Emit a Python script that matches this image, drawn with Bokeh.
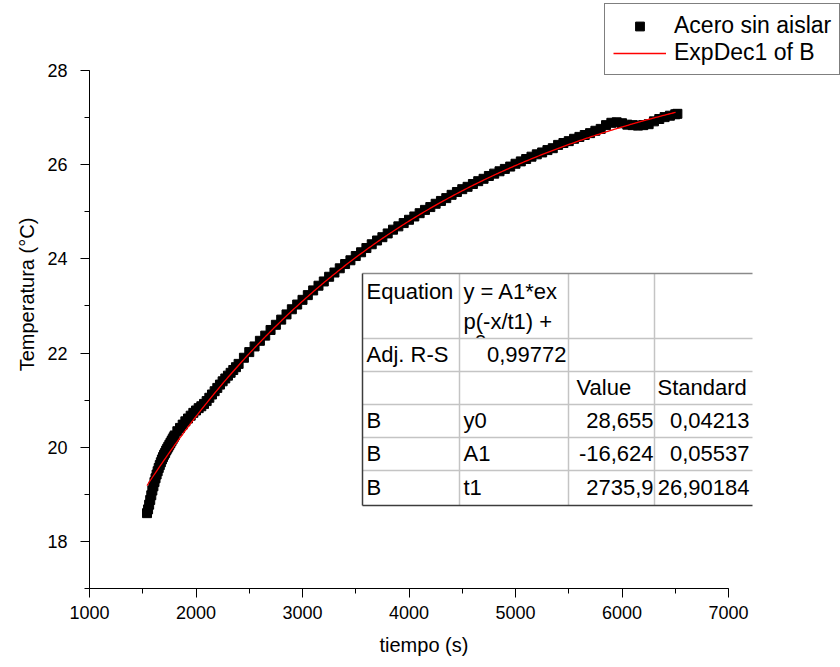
import numpy as np
from bokeh.plotting import figure
from bokeh.models import Range1d, SingleIntervalTicker, Legend, LegendItem, Title
from bokeh.core.properties import value
from bokeh.embed import file_html
from bokeh.resources import INLINE

# ---- measured heating curve: bare steel ----
tiempo = (list(range(1540, 1801, 10)) + list(range(1825, 2401, 25))
          + list(range(2450, 6501, 50)) + [6520])
temperatura = [
    18.60, 18.68, 18.78, 18.88, 18.98, 19.08, 19.17, 19.26, 19.34, 19.42,
    19.49, 19.56, 19.62, 19.68, 19.74, 19.79, 19.84, 19.88, 19.93, 19.97,
    20.01, 20.05, 20.09, 20.13, 20.17, 20.21, 20.25,
    20.34, 20.41, 20.48, 20.55, 20.61, 20.67, 20.73, 20.78, 20.83, 20.87,
    20.92, 20.98, 21.05, 21.12, 21.19, 21.26, 21.33, 21.40, 21.46, 21.52,
    21.58, 21.64, 21.70, 21.77,
    21.90, 22.02, 22.14, 22.26, 22.37, 22.49, 22.60, 22.71, 22.82, 22.93,
    23.03, 23.13, 23.23, 23.33, 23.43, 23.52, 23.62, 23.71, 23.80, 23.89,
    23.97, 24.06, 24.14, 24.23, 24.31, 24.39, 24.46, 24.54, 24.62, 24.69,
    24.76, 24.83, 24.90, 24.97, 25.04, 25.10, 25.17, 25.23, 25.29, 25.36,
    25.42, 25.48, 25.53, 25.59, 25.65, 25.70, 25.76, 25.81, 25.86, 25.91,
    25.96, 26.02, 26.07, 26.12, 26.17, 26.22, 26.26, 26.31, 26.35, 26.42,
    26.46, 26.50, 26.55, 26.59, 26.63, 26.67, 26.72, 26.76, 26.84, 26.89,
    26.90, 26.88, 26.85, 26.84, 26.83, 26.84, 26.86, 26.92, 26.97, 27.01,
    27.04, 27.07, 27.08,
]

# ---- ExpDec1 fit: y = A1*exp(-x/t1) + y0 ----
fit_y0, fit_A1, fit_t1 = 28.655, -16.624, 2735.9
err_y0, err_A1, err_t1 = 0.04213, 0.05537, 26.90184
adj_r2 = 0.99772
fit_x_start, fit_x_end = 1540, 6503

# ---- result table texts ----
eq_lines = ["y = A1*ex", "p(-x/t1) +", "y0"]
row_dataset = ["B", "B", "B"]
param_names = ["y0", "A1", "t1"]
param_values = [fit_y0, fit_A1, fit_t1]
param_errors = [err_y0, err_A1, err_t1]

x_ticks_step, y_ticks_step = 1000, 2

# ---- canvas geometry (pixels) ----
W, H = 840, 667
LEFT, BOTTOM = 89, 79
X_PX0, X_PX1 = 89, 728      # pixel positions of x = 1000 and x = 7000
Y_PX0, Y_PX1 = 588, 70      # pixel positions of y = 17 and y = 28
sx = 6000 / (X_PX1 - X_PX0)
sy = 11 / (Y_PX0 - Y_PX1)


def X(px):
    return 1000 + (px - X_PX0) * sx


def Y(py):
    return 17 + (Y_PX0 - py) * sy


p = figure(width=W, height=H, output_backend="svg", toolbar_location=None,
           x_range=Range1d(1000, X(W)), y_range=Range1d(17, Y(0)),
           min_border_left=LEFT, min_border_right=0,
           min_border_top=0, min_border_bottom=BOTTOM)
p.outline_line_color = None
p.grid.visible = False
p.background_fill_color = "white"
p.border_fill_color = "white"

FONT = "Liberation Sans"

for ax in (p.xaxis[0], p.yaxis[0]):
    ax.axis_line_color = "black"
    ax.axis_line_width = 1
    ax.major_tick_line_color = "black"
    ax.minor_tick_line_color = "black"
    ax.major_tick_in = 0
    ax.major_tick_out = 9
    ax.minor_tick_in = 0
    ax.minor_tick_out = 5
    ax.major_label_text_font = FONT
    ax.major_label_text_font_size = "18px"
    ax.major_label_text_color = "black"
    ax.axis_label_text_font = FONT
    ax.axis_label_text_font_size = "20px"
    ax.axis_label_text_font_style = "normal"
    ax.axis_label_text_color = "black"

p.xaxis.bounds = (1000, 7000)
p.yaxis.bounds = (17, 28)
p.xaxis.ticker = SingleIntervalTicker(interval=x_ticks_step, num_minor_ticks=2)
p.yaxis.ticker = SingleIntervalTicker(interval=y_ticks_step, num_minor_ticks=2)
p.yaxis.axis_label = "Temperatura (°C)"
p.xaxis.major_label_standoff = 8
p.yaxis.major_label_standoff = 13
p.yaxis.axis_label_standoff = 6

# x axis title, placed under the 1000..7000 span of the axis
x_title = Title(text="tiempo (s)", align="left", offset=290,
                text_font=FONT, text_font_size="20px", text_line_height=0.6,
                text_font_style="normal", text_color="black", standoff=21)
p.add_layout(x_title, "below")

# data and fitted curve
sc = p.scatter(tiempo, temperatura, marker="square", size=9,
               fill_color="black", line_color="black")
fx = np.linspace(fit_x_start, fit_x_end, 400)
fy = fit_y0 + fit_A1 * np.exp(-fx / fit_t1)
ln = p.line(fx, fy, line_color="#ff0000", line_width=1.3)

# ---- result table ----
col_px = [362, 459, 568, 654, 752]
row_px = [273, 338, 371, 404, 437, 470, 505]
TFS = value("22px")
tfont = value(FONT)


def txt(xs, ys, texts, align="left"):
    p.text(x=[X(v) for v in xs], y=[Y(v) for v in ys], text=texts,
           text_font=tfont, text_font_size=TFS, text_color="black",
           text_align=align, text_baseline="middle")


# third equation line, cut off by the next row
txt([463], [342], [eq_lines[2]])
p.quad(left=X(col_px[0]), right=X(col_px[-1]), top=Y(row_px[1]),
       bottom=Y(row_px[2]), fill_color="white", line_color=None)

light = "#c4c4c4"
for cx in col_px[1:4]:
    p.segment(X(cx), Y(row_px[0]), X(cx), Y(row_px[-1]),
              line_color=light, line_width=1.5)
for ry in row_px[1:-1]:
    p.segment(X(col_px[0]), Y(ry), X(col_px[-1]), Y(ry),
              line_color=light, line_width=1.5)
p.segment(X(col_px[0]), Y(row_px[0]), X(col_px[-1]), Y(row_px[0]),
          line_color="#8a8a8a", line_width=1.5)
p.segment(X(col_px[0]), Y(row_px[-1]), X(col_px[-1]), Y(row_px[-1]),
          line_color="#3c3c3c", line_width=1.5)
p.segment(X(col_px[0]), Y(row_px[0]), X(col_px[0]), Y(row_px[-1]),
          line_color="#3c3c3c", line_width=1.5)

fmt = lambda v: str(v).replace(".", ",")
row_y = [420, 453, 487]
txt([366, 463], [291, 291], ["Equation", eq_lines[0]])
txt([463], [321], [eq_lines[1]])
txt([366], [354], ["Adj. R-S"])
txt([566], [354], [fmt(adj_r2)], align="right")
txt([576, 657], [387, 387], ["Value", "Standard"])
txt([366] * 3, row_y, row_dataset)
txt([463] * 3, row_y, param_names)
txt([653] * 3, row_y, [fmt(v) for v in param_values], align="right")
txt([749] * 3, row_y, [fmt(v) for v in param_errors], align="right")

# ---- legend ----
legend = Legend(items=[LegendItem(label="Acero sin aislar", renderers=[sc]),
                       LegendItem(label="ExpDec1 of B", renderers=[ln])],
                location=(604 - LEFT, Y_PX0 - 75))
legend.label_text_font = FONT
legend.label_text_font_size = "23px"
legend.label_text_color = "black"
legend.glyph_width = 53
legend.glyph_height = 22
legend.label_height = 22
legend.label_standoff = 8
legend.padding = 8
legend.spacing = 0
legend.margin = 0
legend.border_line_color = "black"
legend.border_line_width = 1
legend.background_fill_color = "white"
legend.background_fill_alpha = 1
p.add_layout(legend)

open("out.html", "w").write(file_html(p, INLINE))
